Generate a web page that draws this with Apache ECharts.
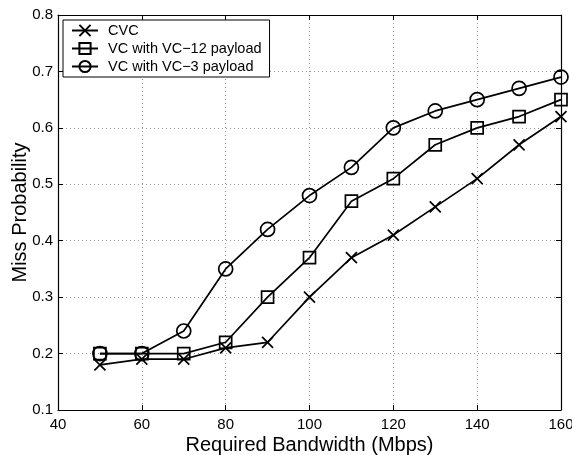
<!DOCTYPE html>
<html><head><meta charset="utf-8">
<script src="https://cdn.jsdelivr.net/npm/echarts@6/dist/echarts.min.js"></script>
<style>html,body{margin:0;padding:0;background:#fff}#c{width:572px;height:455px}</style>
</head><body><div id="c"></div>
<script>
const bandwidth = [50, 60, 70, 80, 90, 100, 110, 120, 130, 140, 150, 160];
const cvc = [0.18, 0.19, 0.19, 0.21, 0.22, 0.30, 0.37, 0.41, 0.46, 0.51, 0.57, 0.62];
const vc12 = [0.20, 0.20, 0.20, 0.22, 0.30, 0.37, 0.47, 0.51, 0.57, 0.60, 0.62, 0.65];
const vc3 = [0.20, 0.20, 0.24, 0.35, 0.42, 0.48, 0.53, 0.60, 0.63, 0.65, 0.67, 0.69];
const seriesNames = ['CVC', 'VC with VC\u221212 payload', 'VC with VC\u22123 payload'];

const FONT = 'Liberation Sans';
const pairs = arr => bandwidth.map((x, i) => [x, arr[i]]);
const chart = echarts.init(document.getElementById('c'));
const mk = (name, data, symbol, size) => ({
  name, type: 'line', data: pairs(data), symbol, symbolSize: size,
  showAllSymbol: true,
  lineStyle: { color: '#000', width: 1.7 },
  itemStyle: { color: 'rgba(0,0,0,0)', borderColor: '#000', borderWidth: 1.7 },
  emphasis: { disabled: true }, animation: false, z: 5
});
chart.setOption({
  animation: false,
  grid: { left: 58, right: 11, top: 15, bottom: 45, show: false, containLabel: false, outerBoundsMode: 'none' },
  legend: {
    left: 63, top: 20, orient: 'vertical', itemGap: 3, itemWidth: 26, itemHeight: 14,
    padding: [3, 8, 3, 8], borderColor: '#000', borderWidth: 1, backgroundColor: '#fff',
    textStyle: { fontFamily: FONT, fontSize: 14.5, color: '#000', padding: [0, 0, 0, 5] },
    data: seriesNames
  },
  xAxis: [{
    type: 'value', min: 40, max: 160, interval: 20,
    name: 'Required Bandwidth (Mbps)', nameLocation: 'middle', nameGap: 25, nameMoveOverlap: false,
    nameTextStyle: { fontFamily: FONT, fontSize: 20, color: '#000' },
    axisLine: { lineStyle: { color: '#000', width: 1.2 } },
    axisTick: { inside: true, length: 5, lineStyle: { color: '#000' } },
    axisLabel: { fontFamily: FONT, fontSize: 15, color: '#000', margin: 7 },
    splitLine: { show: true, lineStyle: { color: '#999', type: [1, 3], width: 1 } }
  }, {
    type: 'value', position: 'top', min: 40, max: 160, interval: 20,
    axisLine: { show: true, lineStyle: { color: '#000', width: 1.2 } },
    axisTick: { show: true, inside: true, length: 5, lineStyle: { color: '#000' } },
    axisLabel: { show: false }, splitLine: { show: false }
  }],
  yAxis: [{
    type: 'value', min: 0.1, max: 0.8, interval: 0.1,
    name: 'Miss Probability', nameLocation: 'middle', nameGap: 28, nameMoveOverlap: false,
    nameTextStyle: { fontFamily: FONT, fontSize: 20, color: '#000' },
    axisLine: { show: true, lineStyle: { color: '#000', width: 1.2 } },
    axisTick: { show: true, inside: true, length: 5, lineStyle: { color: '#000' } },
    axisLabel: { fontFamily: FONT, fontSize: 15, color: '#000', margin: 5, formatter: v => v.toFixed(1) },
    splitLine: { show: true, lineStyle: { color: '#999', type: [1, 3], width: 1 } }
  }, {
    type: 'value', position: 'right', min: 0.1, max: 0.8, interval: 0.1,
    axisLine: { show: true, lineStyle: { color: '#000', width: 1.2 } },
    axisTick: { show: true, inside: true, length: 5, lineStyle: { color: '#000' } },
    axisLabel: { show: false }, splitLine: { show: false }
  }],
  series: [
    mk(seriesNames[0], cvc, 'path://M0,0L10,10M10,0L0,10', 11),
    mk(seriesNames[1], vc12, 'rect', 12),
    mk(seriesNames[2], vc3, 'circle', 14)
  ]
});
</script></body></html>
